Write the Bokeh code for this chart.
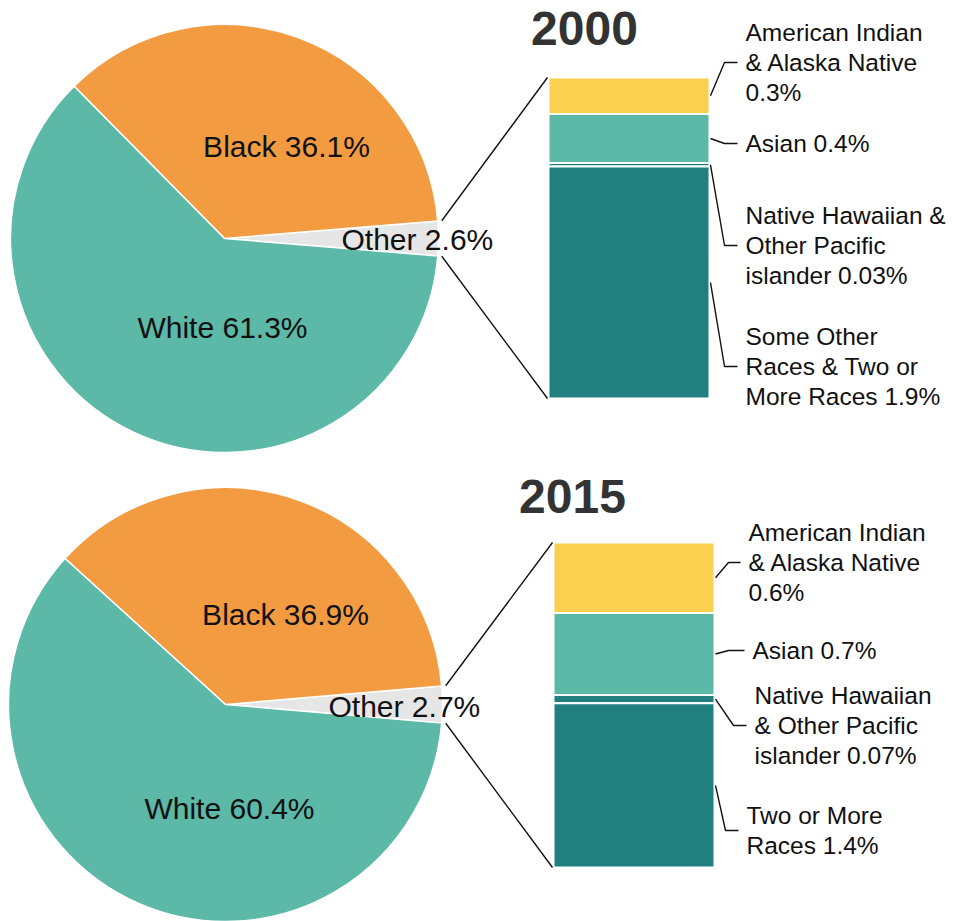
import math
from bokeh.plotting import figure
from bokeh.models import Range1d, ColumnDataSource
from bokeh.embed import file_html
from bokeh.resources import INLINE
from bokeh.core.properties import value

# ---------------- data ----------------
years = ["2000", "2015"]
pie_cats = ["White", "Black", "Other"]
pie_2000 = [61.3, 36.1, 2.6]
pie_2015 = [60.4, 36.9, 2.7]

other_cats_2000 = ["American Indian\n& Alaska Native\n", "Asian",
                   "Native Hawaiian &\nOther Pacific\nislander",
                   "Some Other\nRaces & Two or\nMore Races"]
other_2000 = [0.3, 0.4, 0.03, 1.9]
other_cats_2015 = ["American Indian\n& Alaska Native\n", "Asian",
                   "Native Hawaiian\n& Other Pacific\nislander",
                   "Two or More\nRaces"]
other_2015 = [0.6, 0.7, 0.07, 1.4]

# ---------------- styles ----------------
pie_colors = ["#5cb8a7", "#f29b41", "#e6e6e6"]
bar_colors = ["#fcd04f", "#5cb8a7", "#208080", "#208080"]
FONT = value("Liberation Sans")

W, H = 954, 921
PAGE_H = 921


def Y(sy):
    return PAGE_H - sy


layouts = [
    dict(cx=224, cy=238, r=214, bl=548, br=709, bt=77, bb=398,
         tx=584, ty=28,
         lab=[(-2, 89, "center"), (62, -92, "center"), (117, 1, "left")],
         elbow=[62, 143, 245, 366], lead_dx=[15, 15, 15, 15], lab_dx=[36, 36, 36, 36]),
    dict(cx=225, cy=704, r=217, bl=553, br=714, bt=542, bb=867,
         tx=572, ty=496,
         lab=[(4, 104, "center"), (60, -90, "center"), (103, 2, "left")],
         elbow=[562, 650, 725, 830], lead_dx=[14, 14, 19, 11], lab_dx=[34, 38, 40, 32]),
]

p = figure(width=W, height=H, x_range=Range1d(0, W), y_range=Range1d(PAGE_H - H, PAGE_H),
           min_border=0, toolbar_location=None, output_backend="svg",
           x_axis_type=None, y_axis_type=None, outline_line_color=None)
p.grid.visible = False
p.background_fill_color = "white"

datasets = [(years[0], pie_2000, other_cats_2000, other_2000),
            (years[1], pie_2015, other_cats_2015, other_2015)]

for (year, pie_vals, ocats, ovals), L in zip(datasets, layouts):
    total = sum(pie_vals)
    fr = [v / total for v in pie_vals]
    # wedges: Other centred on 0 deg, then Black, then White anticlockwise
    order = [2, 1, 0]
    start = -fr[2] * math.pi
    starts, ends, cols = [], [], []
    ang = {}
    for i in order:
        end = start + fr[i] * 2 * math.pi
        starts.append(start)
        ends.append(end)
        cols.append(pie_colors[i])
        ang[i] = (start, end)
        start = end
    src = ColumnDataSource(dict(x=[L["cx"]] * 3, y=[Y(L["cy"])] * 3, s=starts, e=ends, c=cols))
    p.wedge(x="x", y="y", radius=L["r"], start_angle="s", end_angle="e", fill_color="c",
            line_color="white", line_width=1.5, source=src)

    # pie labels
    for i, (dx, dy, align) in enumerate(L["lab"]):
        p.text(x=[L["cx"] + dx], y=[Y(L["cy"] + dy)], text=[f"{pie_cats[i]} {pie_vals[i]:g}%"],
               text_font=FONT, text_font_size=value("30px"), text_align=align,
               text_baseline="middle", text_color="#111111")

    # title
    p.text(x=[L["tx"]], y=[Y(L["ty"])], text=[year], text_font=FONT, text_font_size=value("48px"),
           text_font_style="bold", text_align="center", text_baseline="middle", text_color="#333333")

    # stacked bar
    otot = sum(ovals)
    bh = L["bb"] - L["bt"]
    tops, bots, mids = [], [], []
    cur = L["bt"]
    for v in ovals:
        h = v / otot * bh
        tops.append(Y(cur))
        bots.append(Y(cur + h))
        mids.append(cur + h / 2)
        cur += h
    p.quad(left=L["bl"], right=L["br"], top=tops, bottom=bots, fill_color=bar_colors,
           line_color="white", line_width=2)

    # connector lines from the Other slice to bar corners
    a0, a1 = ang[2]
    rr = L["r"] + 4
    x0 = [L["cx"] + rr * math.cos(a1), L["cx"] + rr * math.cos(a0)]
    y0 = [Y(L["cy"]) + rr * math.sin(a1), Y(L["cy"]) + rr * math.sin(a0)]
    x1 = [L["bl"] - 1, L["bl"] - 1]
    y1 = [Y(L["bt"]), Y(L["bb"])]
    p.segment(x0=x0, y0=y0, x1=x1, y1=y1, line_color="#111111", line_width=1.4)

    # leader lines + labels
    xs, ys = [], []
    for k, (name, v) in enumerate(zip(ocats, ovals)):
        ey = L["elbow"][k]
        xs.append([L["br"] + 1, L["br"] + L["lead_dx"][k], L["br"] + L["lab_dx"][k] - 8])
        ys.append([Y(mids[k]), Y(ey), Y(ey)])
        sep = "" if name.endswith("\n") else " "
        lines = (name + sep + f"{v:g}%").split("\n")
        n = len(lines)
        for j, ln in enumerate(lines):
            ly = ey + (j - (n - 1) / 2) * 30
            p.text(x=[L["br"] + L["lab_dx"][k]], y=[Y(ly)], text=[ln], text_font=FONT,
                   text_font_size=value("24.5px"), text_align="left", text_baseline="middle",
                   text_color="#111111")
    p.multi_line(xs=xs, ys=ys, line_color="#111111", line_width=1.4)

open("out.html", "w").write(file_html(p, INLINE))
